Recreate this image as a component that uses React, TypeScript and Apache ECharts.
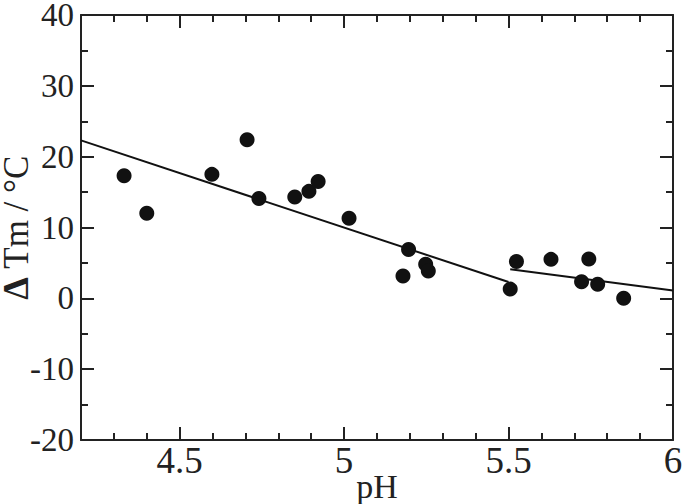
import React, { useEffect, useRef } from "react";
import * as echarts from "echarts";

const phValues: number[] = [4.331, 4.40, 4.598, 4.705, 4.741, 4.85, 4.893, 4.921, 5.015, 5.179, 5.196, 5.248, 5.256, 5.505, 5.524, 5.629, 5.722, 5.744, 5.771, 5.85];
const dTmValues: number[] = [17.3, 12.0, 17.5, 22.4, 14.1, 14.3, 15.1, 16.5, 11.3, 3.15, 6.9, 4.8, 3.85, 1.3, 5.2, 5.5, 2.35, 5.55, 2.0, 0.0];
const fit1X: number[] = [4.2, 5.5];
const fit1Y: number[] = [22.3, 2.3];
const fit2X: number[] = [5.505, 6.0];
const fit2Y: number[] = [4.1, 1.1];
const majorXTicks: number[] = [4.5, 5, 5.5, 6];

const FONT = "'Liberation Serif', 'Times New Roman', Times, serif";

export default function App() {
  const ref = useRef<HTMLDivElement>(null);
  useEffect(() => {
    document.body.style.margin = "0";
    const chart = echarts.init(ref.current!, null, { renderer: "svg" });
    const lineStyle = { color: "#222", width: 2 };
    const xBase = {
      type: "value" as const,
      min: 4.2,
      max: 6,
      interval: 0.1,
      splitLine: { show: false },
      axisLine: { show: true, onZero: false, lineStyle },
    };
    const yBase = {
      type: "value" as const,
      min: -20,
      max: 40,
      interval: 10,
      splitLine: { show: false },
      axisLine: { show: true, onZero: false, lineStyle },
      axisTick: { show: true, inside: true, length: 13, lineStyle },
      minorTick: { show: true, splitNumber: 2, length: 7, lineStyle },
    };
    chart.setOption({
      animation: false,
      backgroundColor: "#fff",
      textStyle: { fontFamily: FONT },
      grid: { left: 81, right: 12, top: 15, bottom: 64, containLabel: false, outerBoundsMode: "none" },
      xAxis: [
        {
          ...xBase,
          position: "bottom",
          axisTick: { show: true, inside: true, length: 7, lineStyle },
          axisLabel: { show: false },
          name: "pH",
          nameLocation: "middle",
          nameGap: 29,
          nameMoveOverlap: false,
          nameTextStyle: { fontFamily: FONT, fontSize: 34, color: "#222" },
        },
        {
          ...xBase,
          position: "bottom",
          axisLine: { show: false, onZero: false },
          axisTick: { show: true, inside: true, length: 13, lineStyle, customValues: majorXTicks },
          axisLabel: {
            show: true,
            customValues: majorXTicks,
            margin: 2,
            fontFamily: FONT,
            fontSize: 37,
            color: "#222",
            formatter: (v: number) => String(v),
          },
        },
        {
          ...xBase,
          position: "top",
          axisTick: { show: true, inside: true, length: 7, lineStyle },
          axisLabel: { show: false },
        },
        {
          ...xBase,
          position: "top",
          axisLine: { show: false, onZero: false },
          axisTick: { show: true, inside: true, length: 13, lineStyle, customValues: majorXTicks },
          axisLabel: { show: false },
        },
      ],
      yAxis: [
        {
          ...yBase,
          position: "left",
          axisLabel: { show: true, margin: 7, fontFamily: FONT, fontSize: 33, color: "#222" },
          name: "{b|Δ} Tm / °C",
          nameLocation: "middle",
          nameGap: 50,
          nameRotate: 90,
          nameMoveOverlap: false,
          nameTextStyle: {
            fontFamily: FONT,
            fontSize: 35,
            lineHeight: 30,
            color: "#222",
            rich: { b: { fontFamily: FONT, fontSize: 36, lineHeight: 30, fontWeight: "bold", color: "#222" } },
          },
        },
        {
          ...yBase,
          position: "right",
          axisLabel: { show: false },
        },
      ],
      series: [
        {
          type: "scatter",
          xAxisIndex: 0,
          yAxisIndex: 0,
          symbol: "circle",
          symbolSize: 15,
          itemStyle: { color: "#111", opacity: 1 },
          data: phValues.map((x, i) => [x, dTmValues[i]]),
          z: 3,
        },
        {
          type: "line",
          xAxisIndex: 0,
          yAxisIndex: 0,
          showSymbol: false,
          symbol: "none",
          lineStyle: { color: "#111", width: 2 },
          data: fit1X.map((x, i) => [x, fit1Y[i]]),
        },
        {
          type: "line",
          xAxisIndex: 0,
          yAxisIndex: 0,
          showSymbol: false,
          symbol: "none",
          lineStyle: { color: "#111", width: 2 },
          data: fit2X.map((x, i) => [x, fit2Y[i]]),
        },
      ],
    });
    return () => chart.dispose();
  }, []);
  return <div ref={ref} style={{ width: 685, height: 504 }} />;
}
